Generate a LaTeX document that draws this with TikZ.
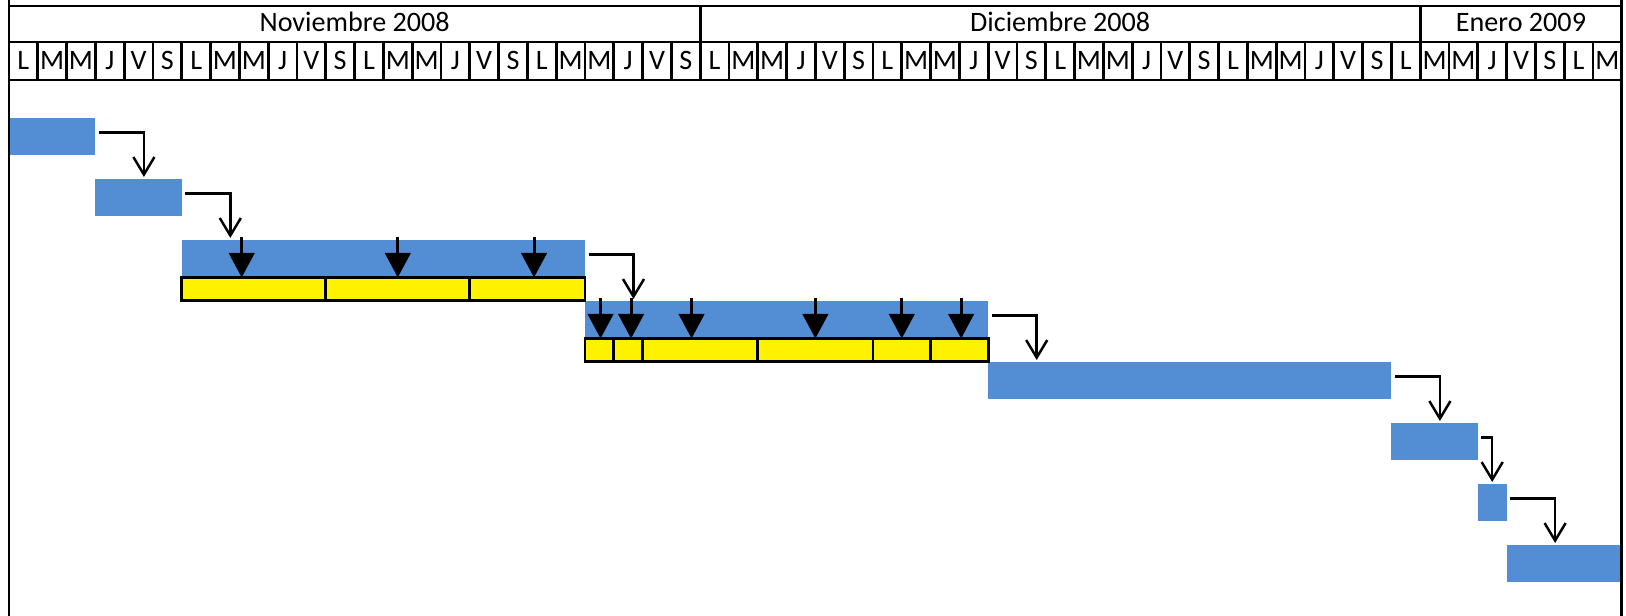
\documentclass[tikz,border=0pt]{standalone}
\usepackage{fontspec}
\setmainfont{Carlito}
\usetikzlibrary{arrows.meta, positioning}

\definecolor{azulbarra}{RGB}{83,142,213}
\newlength{\anchodia}
\setlength{\anchodia}{5.76mm}

\tikzset{
  marco/.style={line width=1.6pt},
  texto/.style={anchor=base, inner sep=0pt, font=\fontsize{16pt}{19pt}\selectfont},
  barra/.style={fill=azulbarra, inner sep=0pt, outer sep=0pt, minimum height=7.4mm, anchor=north west},
  subtarea/.style={fill=yellow, draw=black, line width=1.6pt, inner sep=0pt, outer sep=0pt, minimum height=4.6mm, anchor=north west},
  conector/.style={line width=1.4pt, -{Straight Barb[length=10pt, width=12pt]}},
  hito/.style={line width=1.7pt, -{Triangle[length=14pt, width=14.5pt]}},
}

% tarea: nombre, dia inicio, dia fin, altura
\newcommand{\tarea}[4]{%
  \node[barra, minimum width={(#3-#2)*\anchodia}] (#1) at (#2,#4) {};}
\newcommand{\subt}[4]{%
  \node[subtarea, minimum width={(#3-#2)*\anchodia}] (#1) at (#2,#4) {};}

\begin{document}
\begin{tikzpicture}[x=5.76mm, y=-0.2mm]
    \useasboundingbox (-0.3125,0) rectangle (56.146,616);

    % tareas
    \tarea{b1}{0}{3}{118}
    \tarea{b2}{3}{6}{179}
    \tarea{b3}{6}{20}{240}
    \tarea{b4}{20}{34}{301}
    \tarea{b5}{34}{48}{362}
    \tarea{b6}{48}{51}{423}
    \tarea{b7}{51}{52}{484}
    \tarea{b8}{52}{56}{545}

    % subtareas
    \subt{s1}{6}{11}{277.5}
    \subt{s2}{11}{16}{277.5}
    \subt{s3}{16}{20}{277.5}
    \subt{t1}{20}{21}{338.5}
    \subt{t2}{21}{22}{338.5}
    \subt{t3}{22}{26}{338.5}
    \subt{t4}{26}{30}{338.5}
    \subt{t5}{30}{32}{338.5}
    \subt{t6}{32}{34}{338.5}

    \foreach \s/\dx in {s1/-0.42, s2/0, s3/0.23, t1/0.04, t2/0.1, t3/-0.3, t4/0, t5/0, t6/0.06}
      \draw[hito] ([xshift=\dx*\anchodia, yshift=8mm]\s.north) -- ([xshift=\dx*\anchodia]\s.north);

    % dependencias
    \draw[conector] ([xshift=0.7mm, yshift=0.8mm]b1.east) -| ([xshift=9.7mm, yshift=0.4mm]b2.north west);
    \draw[conector] ([xshift=0.7mm, yshift=0.8mm]b2.east) -| ([xshift=9.7mm, yshift=0.4mm]b3.north west);
    \draw[conector] ([xshift=0.7mm, yshift=0.8mm]b3.east) -| ([xshift=9.7mm, yshift=0.4mm]b4.north west);
    \draw[conector] ([xshift=0.7mm, yshift=0.8mm]b4.east) -| ([xshift=9.7mm, yshift=0.4mm]b5.north west);
    \draw[conector] ([xshift=0.7mm, yshift=0.8mm]b5.east) -| ([xshift=9.7mm, yshift=0.4mm]b6.north west);
    \draw[conector] ([xshift=0.7mm, yshift=0.8mm]b6.east) -| ([yshift=0.4mm]b7.north);
    \draw[conector] ([xshift=0.7mm, yshift=0.8mm]b7.east) -| ([xshift=9.7mm, yshift=0.4mm]b8.north west);

    % cabecera
    \draw[marco] (0,0) -- (0,616);
    \draw[marco] (56,0) -- (56,616);
    \foreach \y in {6,42,80}
      \draw[marco] (0,\y) -- (56,\y);
    \foreach \x in {24,49}
      \draw[marco] (\x,6) -- (\x,42);
    \foreach \x in {1,...,55}
      \draw[marco] (\x,42) -- (\x,80);

    \node[texto] (nov) at (12,31.5) {Noviembre 2008};
    \node[texto] (dic) at (36.5,31.5) {Diciembre 2008};
    \node[texto] (ene) at (52.5,31.5) {Enero 2009};

    \foreach \d in {0,...,55} {
      \pgfmathsetmacro{\letra}{{"L","M","M","J","V","S"}[int(mod(\d,6))]}
      \node[texto] (d\d) at (\d+0.5,69.5) {\letra};
    }
\end{tikzpicture}
\end{document}
